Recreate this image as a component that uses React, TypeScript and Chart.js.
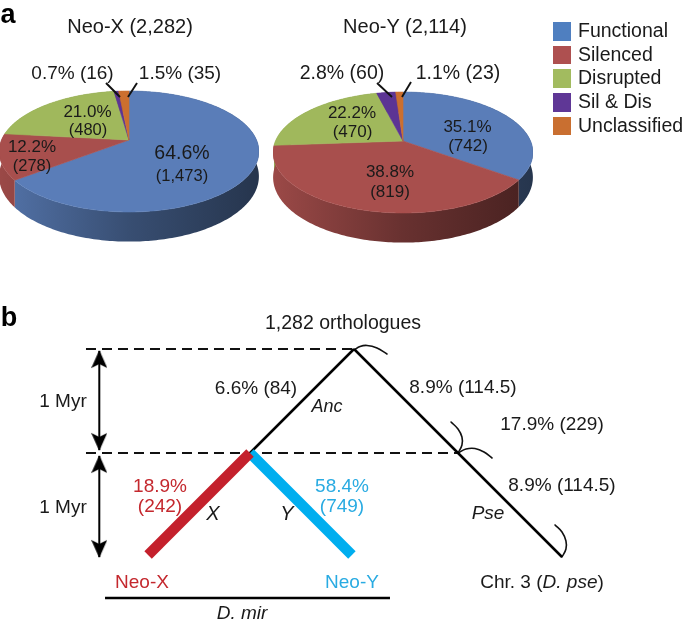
import React, { useEffect, useRef } from "react";
import { Chart, registerables } from "chart.js";

Chart.register(...registerables);

const FONT = '"Liberation Sans", Arial, sans-serif';

// Panel a
const categories = ["Functional", "Silenced", "Disrupted", "Sil & Dis", "Unclassified"];
const neoXCounts = [1473, 278, 480, 16, 35];
const neoYCounts = [742, 819, 470, 60, 23];
const sliceColors = ["#5a7db8", "#a84f4d", "#a0b85c", "#5c3494", "#cc6f2f"];
const legendColors = ["#4f7fc0", "#ae5050", "#a2bb5f", "#5f3796", "#c96f30"];

// Panel b: x is branch length, y is time in Myr
const ancBranch = [{ x: 0, y: 1 }, { x: 1, y: 2 }];
const pseBranch = [{ x: 1, y: 2 }, { x: 3, y: 0 }];
const xBranch = [{ x: 0, y: 1 }, { x: -0.98, y: 0.02 }];
const yBranch = [{ x: 0, y: 1 }, { x: 0.98, y: 0.02 }];
const topDashed = [{ x: -1.577, y: 2 }, { x: 1, y: 2 }];
const midDashed = [{ x: -1.577, y: 1 }, { x: 2, y: 1 }];
const mirLine = [{ x: -1.394, y: -0.394 }, { x: 1.346, y: -0.394 }];
const upperMyr = [{ x: -1.449, y: 1.98 }, { x: -1.449, y: 1.03 }];
const lowerMyr = [{ x: -1.449, y: 0.97 }, { x: -1.449, y: 0 }];
const myrHeads = [
  { x: -1.449, y: 1.899 },
  { x: -1.449, y: 1.111 },
  { x: -1.449, y: 0.889 },
  { x: -1.449, y: 0.082 },
];
const apexArc = [{ x: 1, y: 1.99 }, { x: 1.058, y: 2.024 }, { x: 1.125, y: 2.034 }, { x: 1.221, y: 2.01 }, { x: 1.317, y: 1.952 }];
const midUpperArc = [{ x: 2, y: 1 }, { x: 2.038, y: 1.077 }, { x: 2.038, y: 1.154 }, { x: 2, y: 1.231 }, { x: 1.933, y: 1.298 }];
const midLowerArc = [{ x: 2, y: 1 }, { x: 2.077, y: 1.038 }, { x: 2.163, y: 1.043 }, { x: 2.25, y: 1.01 }, { x: 2.327, y: 0.952 }];
const tipArc = [{ x: 3, y: 0 }, { x: 3.038, y: 0.077 }, { x: 3.038, y: 0.154 }, { x: 3, y: 0.24 }, { x: 2.933, y: 0.308 }];

type Lab = { t: React.ReactNode; x: number; y: number; s: number; c?: string; i?: boolean; b?: boolean };
const RED = "#c4282e";
const BLUE = "#29abe2";
const labels: Lab[] = [
  { t: "a", x: 8, y: 15, s: 27, b: true },
  { t: "b", x: 9, y: 318, s: 27, b: true },
  { t: "Neo-X (2,282)", x: 130, y: 26, s: 20 },
  { t: "Neo-Y (2,114)", x: 405, y: 26, s: 20 },
  { t: "0.7% (16)", x: 72.5, y: 73, s: 19 },
  { t: "1.5% (35)", x: 180, y: 73, s: 19 },
  { t: "64.6%", x: 182, y: 153, s: 19.5 },
  { t: "(1,473)", x: 182, y: 175, s: 16.5 },
  { t: "21.0%", x: 87.5, y: 112, s: 17 },
  { t: "(480)", x: 88, y: 129, s: 16.5 },
  { t: "12.2%", x: 32, y: 147, s: 17 },
  { t: "(278)", x: 32, y: 165, s: 16.5 },
  { t: "2.8% (60)", x: 342, y: 73, s: 19.5 },
  { t: "1.1% (23)", x: 458, y: 73, s: 19.5 },
  { t: "35.1%", x: 467.5, y: 127, s: 17 },
  { t: "(742)", x: 468, y: 146, s: 17 },
  { t: "38.8%", x: 390, y: 172, s: 17 },
  { t: "(819)", x: 390, y: 192, s: 17 },
  { t: "22.2%", x: 352, y: 113, s: 17 },
  { t: "(470)", x: 352.5, y: 132, s: 17 },
  { t: "1,282 orthologues", x: 343, y: 323, s: 19.5 },
  { t: "6.6% (84)", x: 256, y: 388, s: 19 },
  { t: "Anc", x: 327, y: 407, s: 18, i: true },
  { t: "8.9% (114.5)", x: 463, y: 387, s: 19 },
  { t: "17.9% (229)", x: 552, y: 424, s: 19 },
  { t: "8.9% (114.5)", x: 562, y: 485, s: 19 },
  { t: "Pse", x: 488, y: 513, s: 19, i: true },
  { t: <>Chr. 3 (<i>D. pse</i>)</>, x: 542, y: 582, s: 19 },
  { t: "1 Myr", x: 63, y: 401, s: 19 },
  { t: "1 Myr", x: 63, y: 507, s: 19 },
  { t: "18.9%", x: 160, y: 486, s: 19, c: RED },
  { t: "(242)", x: 160, y: 506, s: 19, c: RED },
  { t: "X", x: 213, y: 513, s: 20, i: true },
  { t: "Y", x: 287, y: 513, s: 20, i: true },
  { t: "58.4%", x: 342, y: 486, s: 19, c: BLUE },
  { t: "(749)", x: 342, y: 506, s: 19, c: BLUE },
  { t: "Neo-X", x: 142, y: 582, s: 19, c: RED },
  { t: "Neo-Y", x: 352, y: 582, s: 19, c: BLUE },
  { t: "D. mir", x: 242, y: 613, s: 19, i: true },
];

function shade(hex: string, k: number) {
  const n = parseInt(hex.slice(1), 16);
  const f = (v: number) => Math.round(v * k);
  return `rgb(${f((n >> 16) & 255)},${f((n >> 8) & 255)},${f(n & 255)})`;
}

// Tilted disc seen in perspective, drawn from the pie controller's arc elements.
function tiltedPie(leaders: number[][]) {
  return {
    id: "tiltedPie",
    beforeDatasetsDraw(chart: any) {
      const ctx = chart.ctx as CanvasRenderingContext2D;
      const arcs = chart.getDatasetMeta(0).data as any[];
      const colors = chart.data.datasets[0].backgroundColor as string[];
      const P = 0.19;
      const project = (el: any, a: number, r: number, depth: number) => {
        const u = Math.cos(a) * r;
        const v = Math.sin(a) * r;
        const d = 1 / (1 - P * v);
        return [
          el.x + el.outerRadius * 0.981 * u * d,
          el.y + el.outerRadius * 0.4485 * v * d + depth * d,
        ];
      };
      const DEPTH = 24;
      const STEP = Math.PI / 180;
      arcs.forEach((el, i) => {
        const grad = ctx.createLinearGradient(el.x - el.outerRadius, 0, el.x + el.outerRadius, 0);
        grad.addColorStop(0, shade(colors[i], 0.92));
        grad.addColorStop(0.5, shade(colors[i], 0.62));
        grad.addColorStop(1, shade(colors[i], 0.42));
        ctx.beginPath();
        const angles: number[] = [];
        for (let a = el.startAngle; a < el.endAngle; a += STEP) angles.push(a);
        angles.push(el.endAngle);
        angles.forEach((a, k) => {
          const p = project(el, a, 1, 0);
          if (k === 0) ctx.moveTo(p[0], p[1]);
          else ctx.lineTo(p[0], p[1]);
        });
        angles.slice().reverse().forEach((a) => {
          const p = project(el, a, 1, DEPTH);
          ctx.lineTo(p[0], p[1]);
        });
        ctx.closePath();
        ctx.fillStyle = grad;
        ctx.fill();
      });
      arcs.forEach((el, i) => {
        ctx.beginPath();
        ctx.moveTo(el.x, el.y);
        for (let a = el.startAngle; a < el.endAngle; a += STEP) {
          const p = project(el, a, 1, 0);
          ctx.lineTo(p[0], p[1]);
        }
        const e = project(el, el.endAngle, 1, 0);
        ctx.lineTo(e[0], e[1]);
        ctx.closePath();
        ctx.fillStyle = colors[i];
        ctx.strokeStyle = colors[i];
        ctx.lineWidth = 0.6;
        ctx.fill();
        ctx.stroke();
      });
      const c = arcs[0];
      ctx.strokeStyle = "#111";
      ctx.lineWidth = 1.9;
      leaders.forEach((l) => {
        ctx.beginPath();
        ctx.moveTo(c.x + l[0], c.y + l[1]);
        ctx.lineTo(c.x + l[2], c.y + l[3]);
        ctx.stroke();
      });
      return false;
    },
  };
}

function makeHead() {
  const c = document.createElement("canvas");
  c.width = 16;
  c.height = 19;
  const g = c.getContext("2d")!;
  g.fillStyle = "#000";
  g.beginPath();
  g.moveTo(8, 0);
  g.lineTo(16, 18);
  g.lineTo(8, 14);
  g.lineTo(0, 18);
  g.closePath();
  g.fill();
  return c;
}

function pieConfig(values: number[], leaders: number[][]) {
  return {
    type: "pie",
    data: {
      labels: categories,
      datasets: [{ data: values, backgroundColor: sliceColors, borderWidth: 0 }],
    },
    options: {
      animation: false,
      responsive: false,
      devicePixelRatio: 1,
      events: [],
      layout: { padding: 0 },
      plugins: { legend: { display: false }, tooltip: { enabled: false } },
    },
    plugins: [tiltedPie(leaders)],
  } as any;
}

const line = (data: any[], color: string, width: number, extra: any = {}) => ({
  data,
  borderColor: color,
  backgroundColor: color,
  borderWidth: width,
  showLine: true,
  pointRadius: 0,
  fill: false,
  ...extra,
});

export default function App() {
  const xRef = useRef<HTMLCanvasElement>(null);
  const yRef = useRef<HTMLCanvasElement>(null);
  const treeRef = useRef<HTMLCanvasElement>(null);

  useEffect(() => {
    const pieX = new Chart(xRef.current!, pieConfig(neoXCounts, [[-23, -57, -9, -43], [8, -57, -1, -43]]));
    const pieY = new Chart(yRef.current!, pieConfig(neoYCounts, [[-26, -58, -11, -44], [8, -59, -1, -44]]));
    const head = makeHead();
    const arcStyle = { tension: 0.4, borderCapStyle: "round" };
    const tree = new Chart(treeRef.current!, {
      type: "scatter",
      data: {
        datasets: [
          line(xBranch, "#c4202c", 10.5),
          line(yBranch, "#00aeef", 10.5),
          line(ancBranch, "#000", 2.5),
          line(pseBranch, "#000", 2.5),
          line(topDashed, "#111", 2, { borderDash: [10, 6] }),
          line(midDashed, "#111", 2, { borderDash: [10, 6] }),
          line(mirLine, "#000", 2.6),
          line(upperMyr, "#000", 2),
          line(lowerMyr, "#000", 2),
          line(apexArc, "#111", 1.6, arcStyle),
          line(midUpperArc, "#111", 1.6, arcStyle),
          line(midLowerArc, "#111", 1.6, arcStyle),
          line(tipArc, "#111", 1.6, arcStyle),
          {
            data: myrHeads,
            showLine: false,
            pointStyle: head,
            pointRadius: 9,
            pointRotation: [0, 180, 0, 180],
          },
        ],
      },
      options: {
        animation: false,
        responsive: false,
        devicePixelRatio: 1,
        events: [],
        layout: { padding: 0, autoPadding: false },
        plugins: { legend: { display: false }, tooltip: { enabled: false } },
        scales: {
          x: { type: "linear", display: false, min: -250 / 104, max: 435 / 104 },
          y: { type: "linear", display: false, min: -68 / 104, max: 267 / 104 },
        },
      },
    } as any);
    return () => {
      pieX.destroy();
      pieY.destroy();
      tree.destroy();
    };
  }, []);

  const abs: React.CSSProperties = { position: "absolute" };
  return (
    <div
      style={{
        ...abs,
        left: 0,
        top: 0,
        width: 685,
        height: 625,
        overflow: "hidden",
        background: "#fff",
        fontFamily: FONT,
        color: "#1a1a1a",
      }}
    >
      <canvas ref={xRef} width={260} height={280} style={{ ...abs, left: -1, top: 0 }} />
      <canvas ref={yRef} width={260} height={280} style={{ ...abs, left: 273, top: 1 }} />
      <canvas ref={treeRef} width={685} height={335} style={{ ...abs, left: 0, top: 290 }} />
      {labels.map((l, i) => (
        <div
          key={i}
          style={{
            ...abs,
            left: l.x,
            top: l.y,
            transform: "translate(-50%, -50%)",
            whiteSpace: "nowrap",
            fontSize: l.s,
            lineHeight: 1.1,
            color: l.c ?? (l.b ? "#000" : undefined),
            fontStyle: l.i ? "italic" : "normal",
            fontWeight: l.b ? 700 : 400,
          }}
        >
          {l.t}
        </div>
      ))}
      {categories.map((c, i) => (
        <React.Fragment key={c}>
          <div
            style={{
              ...abs,
              left: 553,
              top: 22 + i * 23.7,
              width: 18,
              height: 18.5,
              background: legendColors[i],
            }}
          />
          <div
            style={{
              ...abs,
              left: 578,
              top: 31 + i * 23.7,
              transform: "translateY(-50%)",
              fontSize: 19.5,
              lineHeight: 1.1,
              whiteSpace: "nowrap",
            }}
          >
            {c}
          </div>
        </React.Fragment>
      ))}
    </div>
  );
}
